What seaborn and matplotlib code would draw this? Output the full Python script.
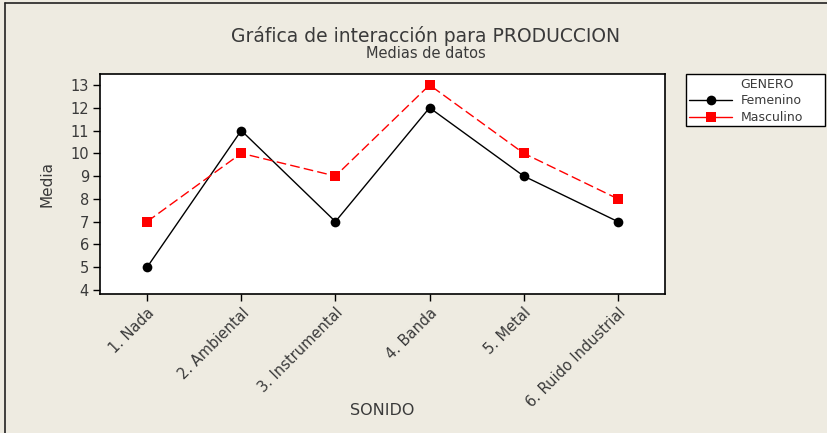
import matplotlib
matplotlib.use("Agg")
import matplotlib.pyplot as plt
import seaborn as sns
import pandas as pd
from matplotlib.lines import Line2D
from matplotlib.patches import Rectangle

sonido = ["1. Nada", "2. Ambiental", "3. Instrumental", "4. Banda", "5. Metal", "6. Ruido Industrial"]
femenino = [5, 11, 7, 12, 9, 7]
masculino = [7, 10, 9, 13, 10, 8]
yticks = list(range(4, 14))

df = pd.DataFrame({
    "SONIDO": sonido * 2,
    "Media": femenino + masculino,
    "GENERO": ["Femenino"] * len(sonido) + ["Masculino"] * len(sonido),
})

sns.set_style("white")
plt.rcParams["font.family"] = ["DejaVu Sans"]

bg = "#EEEBE1"
txt = "#3a3a3a"
fig = plt.figure(figsize=(8.27, 4.33), dpi=100, facecolor=bg)
ax = fig.add_axes([0.121, 0.321, 0.683, 0.508])
ax.set_facecolor("white")

palette = {"Femenino": "black", "Masculino": "#FF0000"}
markers = {"Femenino": "o", "Masculino": "s"}
dashes = {"Femenino": "", "Masculino": (7, 3)}
sns.lineplot(data=df, x="SONIDO", y="Media", hue="GENERO", style="GENERO",
             palette=palette, markers=markers, dashes=dashes, sort=False,
             markersize=7, markeredgewidth=0, linewidth=1.0, ax=ax, legend=False)

ax.set_xlim(-0.5, 5.5)
ax.set_ylim(3.82, 13.48)
ax.set_yticks(yticks)
ax.set_yticklabels([str(v) for v in yticks], fontsize=10.5, color=txt)
ax.set_xticks(range(len(sonido)))
ax.set_xticklabels(sonido, rotation=45, ha="right", rotation_mode="anchor",
                   fontsize=10.5, color=txt)
ax.tick_params(axis="both", which="both", length=5, width=1, color="black",
               direction="out", left=True, bottom=True, pad=3)
for s in ax.spines.values():
    s.set_color("black")
    s.set_linewidth(1.2)

ax.set_xlabel("SONIDO", fontsize=11.5, color=txt)
ax.set_ylabel("Media", fontsize=11, color=txt)
ax.xaxis.set_label_coords(0.5, -0.495)
ax.yaxis.set_label_coords(-0.081, 0.5)

fig.text(0.515, 0.917, "Gráfica de interacción para PRODUCCION", ha="center",
         va="center", fontsize=13.5, color=txt)
fig.text(0.515, 0.876, "Medias de datos", ha="center", va="center",
         fontsize=10.5, color=txt)

# legend box drawn as its own patch so its size can be set freely
fig.add_artist(Rectangle((0.8295, 0.709), 0.168, 0.120, transform=fig.transFigure,
                         facecolor="white", edgecolor="black", lw=1.0, zorder=2))

# the group title sits in the label column, as a handle-less first row
handles = [
    Line2D([0], [0], color="none"),
    Line2D([0], [0], color="black", marker="o", markersize=7, markeredgewidth=0, lw=1),
    Line2D([0], [0], color="#FF0000", marker="s", markersize=7, markeredgewidth=0, lw=1),
]
leg = fig.legend(handles, ["GENERO", "Femenino", "Masculino"],
                 loc="upper left", bbox_to_anchor=(0.8295, 0.829),
                 frameon=False, fontsize=9,
                 handlelength=3.4, borderpad=0.28, labelspacing=0.3,
                 handletextpad=0.7, borderaxespad=0)
leg.set_zorder(3)
for t in leg.get_texts():
    t.set_color(txt)

# window frame along the top and left edges
fig.add_artist(Line2D([0.006, 1.0], [0.993, 0.993], color="#222222", lw=1.2,
                      transform=fig.transFigure))
fig.add_artist(Line2D([0.006, 0.006], [0.0, 0.993], color="#222222", lw=1.2,
                      transform=fig.transFigure))

fig.savefig("out.png", dpi=100, facecolor=bg)
